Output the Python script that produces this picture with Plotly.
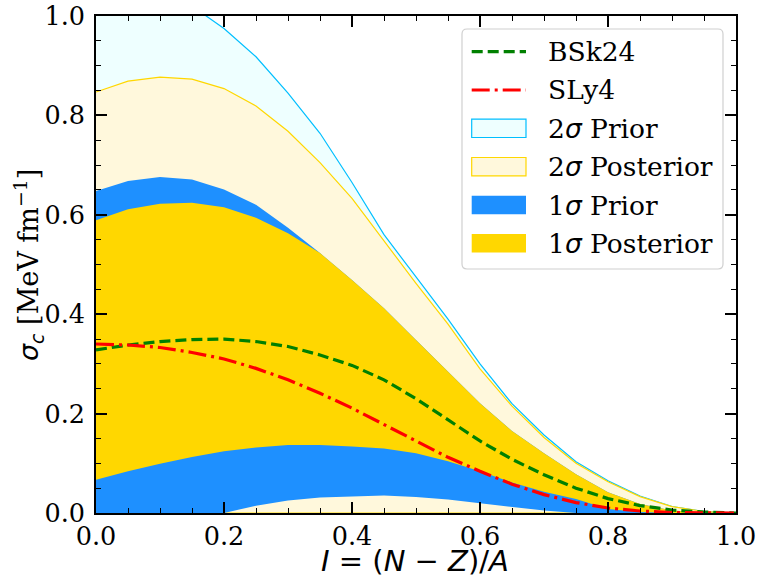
import plotly.graph_objects as go

# x grid  I = (N-Z)/A
I_vals = [0.00, 0.05, 0.10, 0.15, 0.20, 0.25, 0.30, 0.35, 0.40, 0.45, 0.50,
          0.55, 0.60, 0.65, 0.70, 0.75, 0.80, 0.85, 0.90, 0.95, 1.00]

# 2 sigma prior band
prior2_hi = [1.03, 1.05, 1.05, 1.02, 0.975, 0.918, 0.845, 0.764, 0.665, 0.560, 0.475,
             0.390, 0.300, 0.220, 0.157, 0.103, 0.065, 0.034, 0.013, 0.003, 0.0]
prior2_lo = [0.0] * 21

# 2 sigma posterior band
post2_hi = [0.847, 0.869, 0.877, 0.873, 0.854, 0.819, 0.768, 0.705, 0.633, 0.548, 0.462,
            0.380, 0.290, 0.215, 0.152, 0.100, 0.063, 0.033, 0.013, 0.003, 0.0]
post2_lo = [0.0] * 21

# 1 sigma prior band
prior1_hi = [0.648, 0.668, 0.676, 0.671, 0.651, 0.620, 0.574, 0.523, 0.469, 0.412, 0.348,
             0.284, 0.221, 0.165, 0.120, 0.078, 0.042, 0.018, 0.005, 0.001, 0.0]
prior1_lo = [0.0, 0.0, 0.0, 0.0, 0.0, 0.0147, 0.025, 0.031, 0.033, 0.035, 0.032,
             0.027, 0.020, 0.012, 0.005, 0.0, 0.0, 0.0, 0.0, 0.0, 0.0]

# 1 sigma posterior band
post1_hi = [0.589, 0.611, 0.622, 0.624, 0.615, 0.594, 0.563, 0.523, 0.469, 0.412, 0.348,
            0.284, 0.221, 0.165, 0.120, 0.078, 0.042, 0.018, 0.005, 0.001, 0.0]
post1_lo = [0.067, 0.084, 0.099, 0.1125, 0.124, 0.132, 0.1366, 0.137, 0.134, 0.130, 0.120,
            0.104, 0.084, 0.0615, 0.043, 0.028, 0.008, 0.002, 0.0, 0.0, 0.0]

# model curves
bsk24 = [0.328, 0.338, 0.345, 0.349, 0.350, 0.345, 0.335, 0.318, 0.297, 0.268, 0.230,
         0.188, 0.145, 0.108, 0.077, 0.050, 0.029, 0.015, 0.006, 0.002, 0.0]
sly4 = [0.340, 0.338, 0.333, 0.323, 0.310, 0.291, 0.268, 0.241, 0.211, 0.178, 0.144,
        0.112, 0.084, 0.058, 0.037, 0.021, 0.010, 0.004, 0.001, 0.0, 0.0]

SANS = "DejaVu Sans"
FONT = "DejaVu Serif"


def m(s):
    """math-italic piece (matplotlib mathtext look)"""
    return f"<span style='font-family:{SANS}'><i>{s}</i></span>"


legend_labels = ["BSk24", "SLy4", "2" + m("σ") + " Prior", "2" + m("σ") + " Posterior",
                 "1" + m("σ") + " Prior", "1" + m("σ") + " Posterior"]

FS_TICK = 25.5
FS_XLAB = 29
FS_YLAB = 27
FS_LEG = 26.5

# plot-area geometry (pixels)
W, H = 758, 577
L, R, T, B = 96, 22, 16, 64
PW, PH = W - L - R, H - T - B


def px(x):
    return (x - L) / PW


def py(y):
    return (H - B - y) / PH


fig = go.Figure()

BANDS = [
    (prior2_hi, prior2_lo, "#EEFFFF", "#00BFFF", 1.2),
    (post2_hi, post2_lo, "#FFF8DC", "#FFD700", 1.2),
    (prior1_hi, prior1_lo, "#1E90FF", "#1E90FF", 0),
    (post1_hi, post1_lo, "#FFD700", "#FFD700", 0),
]
for (hi, lo, fc, lc, lw), name in zip(BANDS, legend_labels[2:]):
    fig.add_trace(go.Scatter(
        x=I_vals + I_vals[::-1], y=hi + lo[::-1], fill="toself",
        fillcolor=fc, mode="lines", line=dict(color=lc, width=lw),
        name=name, hoverinfo="skip", showlegend=False))

LINES = [(bsk24, "green", "11px,5px"), (sly4, "red", "18px,5px,3px,5px")]
for (vals, col, dash), name in zip(LINES, legend_labels[:2]):
    fig.add_trace(go.Scatter(x=I_vals, y=vals, mode="lines", name=name,
                             line=dict(color=col, width=3.2, dash=dash),
                             showlegend=False))

axis_common = dict(
    range=[0, 1], showgrid=False, zeroline=False, showline=True,
    linecolor="black", linewidth=1.6, mirror="allticks", automargin=False,
    ticks="inside", ticklen=11, tickwidth=1.6, tickcolor="black",
    dtick=0.2, tick0=0, tickformat=".1f",
    tickfont=dict(family=FONT, size=FS_TICK, color="black"),
    minor=dict(ticks="inside", ticklen=5.5, tickwidth=1.2, dtick=0.05,
               tickcolor="black", showgrid=False),
)
fig.update_xaxes(**axis_common)
fig.update_yaxes(**axis_common, ticklabelstandoff=4)

annotations = [
    dict(text=m("I") + " = (" + m("N") + " − " + m("Z") + ")/" + m("A"),
         xref="paper", yref="paper", x=px(415), y=py(561), xanchor="center",
         yanchor="middle", showarrow=False,
         font=dict(family=SANS, size=FS_XLAB, color="black")),
    dict(text=m("σ") + "<sub>" + m("c") + "</sub> [MeV fm<sup>−1</sup>]", xref="paper",
         yref="paper", x=px(28), y=py(265), xanchor="center", yanchor="middle",
         textangle=-90, showarrow=False,
         font=dict(family=FONT, size=FS_YLAB, color="black")),
]

# custom legend (matplotlib-like)
shapes = []
bx0, bx1, by0, by1, rr = 462, 723, 29, 269, 5
path = (f"M{px(bx0 + rr)},{py(by0)} L{px(bx1 - rr)},{py(by0)} "
        f"Q{px(bx1)},{py(by0)} {px(bx1)},{py(by0 + rr)} "
        f"L{px(bx1)},{py(by1 - rr)} Q{px(bx1)},{py(by1)} {px(bx1 - rr)},{py(by1)} "
        f"L{px(bx0 + rr)},{py(by1)} Q{px(bx0)},{py(by1)} {px(bx0)},{py(by1 - rr)} "
        f"L{px(bx0)},{py(by0 + rr)} Q{px(bx0)},{py(by0)} {px(bx0 + rr)},{py(by0)} Z")
shapes.append(dict(type="path", xref="paper", yref="paper", path=path,
                   fillcolor="rgba(255,255,255,0.8)",
                   line=dict(color="#D0D0D0", width=1.2)))
rows = [51.7, 90.0, 128.3, 166.7, 205.0, 243.3]
sx0, sx1 = 471.7, 526.0
for (vals, col, dash), yy in zip(LINES, rows[:2]):
    shapes.append(dict(type="line", xref="paper", yref="paper",
                       x0=px(sx0), x1=px(sx1), y0=py(yy), y1=py(yy),
                       line=dict(color=col, width=3.2, dash=dash)))
for (hi, lo, fc, lc, lw), yy in zip(BANDS, rows[2:]):
    shapes.append(dict(type="rect", xref="paper", yref="paper",
                       x0=px(sx0), x1=px(sx1), y0=py(yy - 9.2), y1=py(yy + 9.2),
                       fillcolor=fc, line=dict(color=lc, width=max(lw, 0.01))))
for lab, yy in zip(legend_labels, rows):
    annotations.append(dict(text=lab, xref="paper", yref="paper", x=px(546),
                            y=py(yy), xanchor="left", yanchor="middle",
                            showarrow=False,
                            font=dict(family=FONT, size=FS_LEG, color="black")))

fig.update_layout(
    width=W, height=H,
    margin=dict(l=L, r=R, t=T, b=B),
    plot_bgcolor="white", paper_bgcolor="white",
    font=dict(family=FONT, size=FS_TICK, color="black"),
    showlegend=False, shapes=shapes, annotations=annotations,
)

fig.write_html("out.html", config={"displayModeBar": False},
               post_script="document.body.style.margin='0px';"
                           "document.body.style.overflow='hidden';")
